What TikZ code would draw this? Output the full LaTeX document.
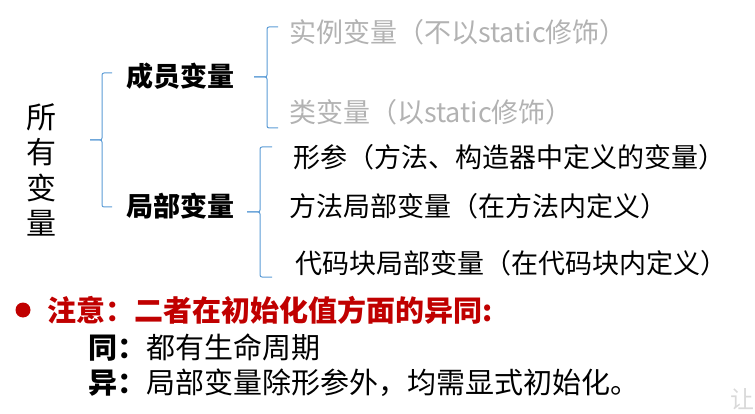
\documentclass[tikz,border=0pt]{standalone}
\usepackage{fontspec}
\setmainfont{Noto Sans CJK SC}
\definecolor{bracecol}{HTML}{5B9BD5}
\definecolor{notered}{HTML}{C00000}
\tikzset{
  txt/.style={inner sep=0, anchor=base west},
  big/.style={font=\fontsize{27}{32}\selectfont},
  low/.style={font=\fontsize{29}{34}\selectfont},
  bracel/.style={draw=bracecol, line width=1pt, rounded corners=2pt}
}
\begin{document}
\begin{tikzpicture}[x=1pt, y=-1pt]
      \useasboundingbox (0,0) rectangle (755,414);

      \node[inner sep=0, anchor=base, font=\fontsize{30}{35}\selectfont] (c1) at (41, 129){所};
      \node[inner sep=0, anchor=base, font=\fontsize{30}{35}\selectfont] (c2) at (41, 164){有};
      \node[inner sep=0, anchor=base, font=\fontsize{30}{35}\selectfont] (c3) at (41, 200){变};
      \node[inner sep=0, anchor=base, font=\fontsize{30}{35}\selectfont] (c4) at (41, 234){量};

      \draw[bracel] (112, 73) -| (102, 140) -- (90, 140);
      \draw[bracel] (90, 140) -- (102, 140) |- (112, 207);

      \node[txt, big] (member) at (126, 87){\bfseries 成员变量};
      \node[txt, big] (local) at (126, 217){\bfseries 局部变量};

      \draw[bracel] (278, 27) -| (267, 77) -- (254, 77);
      \draw[bracel] (254, 77) -- (267, 77) |- (278, 128);

      \node[txt, big, text=black!30] (inst) at (289, 43){实例变量（不以static修饰）};
      \node[txt, big, text=black!30] (cls) at (289, 123){类变量（以static修饰）};

      \draw[bracel] (272, 147) -| (260, 212) -- (247, 212);
      \draw[bracel] (247, 212) -- (260, 212) |- (272, 277);

      \node[txt, big] (param) at (293, 168){形参（方法、构造器中定义的变量）};
      \node[txt, big] (meth) at (289, 217){方法局部变量（在方法内定义）};
      \node[txt, big] (block) at (295, 273){代码块局部变量（在代码块内定义）};

      \fill[notered] (23, 310) circle (7.5);
      \node[txt, low, text=notered] (note) at (47, 321){\bfseries 注意：二者在初始化值方面的异同:};
      \node[txt, low] (same) at (88, 358){\textbf{同：}都有生命周期};
      \node[txt, low] (diff) at (88, 393){\textbf{异：}局部变量除形参外，均需显式初始化。};

      \node[txt, font=\fontsize{24}{28}\selectfont, text=black!15] (wm) at (730, 408){让};
    \end{tikzpicture}
\end{document}
